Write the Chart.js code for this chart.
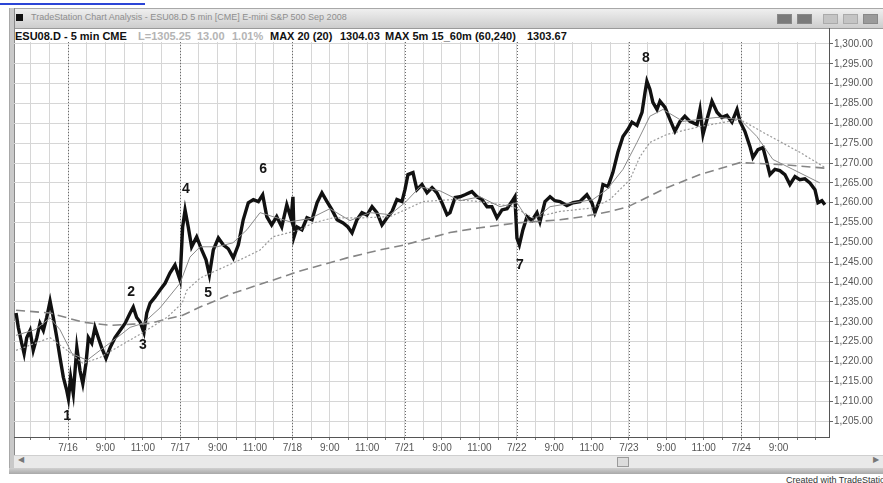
<!DOCTYPE html>
<html>
<head>
<meta charset="utf-8">
<script src="https://cdn.jsdelivr.net/npm/chart.js@4"></script>
<style>
  html, body { margin: 0; padding: 0; background: #fff; }
  #page { position: relative; width: 883px; height: 483px; overflow: hidden; background: #fff;
          font-family: Arial, "Liberation Sans", sans-serif; }
  .abs { position: absolute; }
  #link { left: 0; top: 0; width: 145px; height: 3px; border-bottom: 2px solid #2b45d6; }
  #leftEdge { left: 9px; top: 8px; width: 4px; height: 466px; background: #c9c9c9; border-left: 1px solid #a8a8a8; border-right: 1px solid #8a8a8a; }
  #titleBar { left: 9px; top: 8px; width: 880px; height: 19px; border-top: 1px solid #a8a8a8; border-bottom: 1px solid #9a9a9a;
              background: linear-gradient(#efefef, #cdcdcd); }
  #icon { left: 16px; top: 14px; width: 7px; height: 7px; background: #111; }
  #title { left: 31px; top: 12px; font-size: 9px; color: #8e8e8e; white-space: nowrap; }
  .btn { top: 14px; width: 13px; height: 8px; border: 1px solid #888; }
  .hd { top: 30px; font-size: 11px; font-weight: bold; color: #111; white-space: nowrap; }
  .hd.g { color: #b4b4b4; }
  #axisUp { left: 829px; top: 28px; width: 1px; height: 14px; background: #555; }
  #scroll { left: 14px; top: 455px; width: 869px; height: 12px; background: #e9e9e9; border-top: 1px solid #cfcfcf; }
  #thumb { left: 617px; top: 457px; width: 10px; height: 8px; border: 1px solid #9a9a9a; background: #dcdcdc; }
  .arrow { top: 455px; font-size: 8px; color: #777; }
  #bottomBar { left: 9px; top: 468px; width: 874px; height: 6px; background: linear-gradient(#d0d0d0, #a9a9a9); }
  #created { left: 786px; top: 475px; font-size: 9px; color: #333; white-space: nowrap; }
  canvas { position: absolute; left: 0; top: 0; }
</style>
</head>
<body>
<div id="page">
  <div class="abs" id="link"></div>
  <div class="abs" id="titleBar"></div>
  <div class="abs" id="leftEdge"></div>
  <div class="abs" id="icon"></div>
  <div class="abs" id="title">TradeStation Chart Analysis - ESU08.D 5 min [CME] E-mini S&amp;P 500 Sep 2008</div>
  <div class="abs btn" style="left:777px;background:#7a7a7a"></div>
  <div class="abs btn" style="left:797px;background:#7a7a7a"></div>
  <div class="abs btn" style="left:823px;background:#c4c4c4;border-color:#aaa"></div>
  <div class="abs btn" style="left:843px;background:#c4c4c4;border-color:#aaa"></div>
  <div class="abs btn" style="left:863px;background:#9a9a9a"></div>

  <div class="abs hd" style="left:15px">ESU08.D - 5 min CME</div>
  <div class="abs hd g" style="left:138px">L=1305.25</div>
  <div class="abs hd g" style="left:197px">13.00</div>
  <div class="abs hd g" style="left:232px">1.01%</div>
  <div class="abs hd" style="left:270px">MAX 20 (20)</div>
  <div class="abs hd" style="left:340px">1304.03</div>
  <div class="abs hd" style="left:385px">MAX 5m 15_60m (60,240)</div>
  <div class="abs hd" style="left:527px">1303.67</div>
  <div class="abs" id="axisUp"></div>

  <div class="abs" id="scroll"></div>
  <div class="abs arrow" style="left:18px">&#9664;</div>
  <div class="abs arrow" style="left:873px">&#9654;</div>
  <div class="abs" id="thumb"></div>
  <div class="abs" id="bottomBar"></div>
  <div class="abs" id="created">Created with TradeStation</div>

  <canvas id="chart" width="883" height="483"></canvas>
</div>

<script>
// time is in session hours from the 7/16 open (6 grid hours per trading day)
const dayLabels = ["7/16", "7/17", "7/18", "7/21", "7/22", "7/23", "7/24"];
const dayStarts = [0, 6, 12, 18, 24, 30, 36];
const hourLabelA = "9:00";
const hourLabelB = "11:00";
const yTickValues = [1205, 1210, 1215, 1220, 1225, 1230, 1235, 1240, 1245, 1250,
  1255, 1260, 1265, 1270, 1275, 1280, 1285, 1290, 1295, 1300];

// ESU08.D 5 min price path
const priceTime = [
  -2.78, -2.66, -2.48, -2.35, -2.21, -2.03, -1.86, -1.67, -1.50, -1.32,
  -1.14, -0.96, -0.79, -0.60, -0.43, -0.25, -0.07, 0.02, 0.14, 0.28,
  0.47, 0.64, 0.79, 0.96, 1.09, 1.27, 1.44, 1.62, 1.80, 2.03,
  2.25, 2.51, 2.78, 3.05, 3.32, 3.49, 3.67, 3.85, 4.06, 4.21,
  4.39, 4.65, 4.92, 5.19, 5.45, 5.72, 5.99, 6.13, 6.26, 6.43,
  6.61, 6.88, 7.15, 7.38, 7.56, 7.77, 8.04, 8.30, 8.57, 8.84,
  9.11, 9.37, 9.64, 9.91, 10.18, 10.41, 10.63, 10.89, 11.16, 11.43,
  11.70, 11.93, 12.03, 12.09, 12.25, 12.51, 12.78, 13.05, 13.32, 13.58,
  13.85, 14.12, 14.39, 14.71, 14.97, 15.19, 15.45, 15.72, 15.99, 16.26,
  16.52, 16.79, 17.06, 17.33, 17.59, 17.86, 18.02, 18.18, 18.45, 18.66,
  18.93, 19.20, 19.47, 19.73, 20.00, 20.27, 20.43, 20.70, 20.96, 21.23,
  21.60, 21.87, 22.14, 22.41, 22.67, 22.94, 23.21, 23.48, 23.74, 23.90,
  24.01, 24.14, 24.33, 24.55, 24.81, 25.08, 25.24, 25.51, 25.78, 26.04,
  26.31, 26.68, 27.01, 27.38, 27.75, 28.02, 28.18, 28.45, 28.61, 28.88,
  29.14, 29.41, 29.68, 29.95, 30.16, 30.43, 30.70, 30.86, 30.96, 31.12,
  31.28, 31.50, 31.66, 31.93, 32.19, 32.46, 32.73, 32.99, 33.26, 33.64,
  33.80, 33.96, 34.22, 34.44, 34.71, 34.97, 35.24, 35.51, 35.78, 35.94,
  36.20, 36.47, 36.63, 36.90, 37.17, 37.38, 37.54, 37.81, 38.07, 38.34,
  38.61, 38.88, 39.14, 39.41, 39.68, 39.95, 40.11, 40.32, 40.48
];
const priceClose = [
  1232.2, 1228.6, 1224.6, 1222.0, 1226.0, 1227.8, 1222.8, 1226.0, 1229.6, 1227.8,
  1231.1, 1235.2, 1231.1, 1226.0, 1221.0, 1216.0, 1212.7, 1210.6, 1216.0, 1211.9,
  1223.5, 1217.7, 1214.4, 1219.5, 1226.0, 1224.6, 1228.6, 1226.0, 1223.5, 1220.8,
  1223.5, 1226.0, 1227.8, 1229.6, 1232.2, 1233.7, 1231.1, 1230.0, 1227.3, 1232.2,
  1234.7, 1236.2, 1238.0, 1239.7, 1242.3, 1244.3, 1240.5, 1253.9, 1258.2, 1253.9,
  1248.9, 1251.4, 1248.1, 1245.6, 1241.8, 1248.1, 1251.1, 1249.4, 1248.4, 1246.1,
  1249.4, 1255.7, 1260.0, 1260.8, 1260.3, 1262.0, 1256.5, 1254.4, 1256.5, 1253.9,
  1259.5, 1256.0, 1261.5, 1251.5, 1253.9, 1253.2, 1256.2, 1255.7, 1260.0, 1262.5,
  1260.3, 1258.2, 1255.7, 1254.9, 1253.9, 1252.4, 1255.7, 1257.5, 1256.9, 1259.0,
  1257.5, 1254.4, 1256.2, 1257.8, 1260.8, 1260.3, 1263.3, 1267.1, 1267.6, 1263.3,
  1264.6, 1262.5, 1263.8, 1262.5, 1260.0, 1257.0, 1257.5, 1261.3, 1261.5, 1262.0,
  1262.8, 1261.5, 1260.8, 1259.0, 1259.0, 1256.2, 1258.2, 1258.5, 1260.3, 1261.5,
  1251.1, 1249.4, 1253.2, 1256.5, 1255.5, 1257.5, 1255.2, 1260.3, 1261.5, 1260.5,
  1260.3, 1259.3, 1260.0, 1260.3, 1262.0, 1260.0, 1257.5, 1260.8, 1264.6, 1264.1,
  1267.6, 1272.7, 1276.7, 1278.5, 1280.3, 1279.5, 1282.8, 1287.8, 1290.6, 1288.6,
  1285.3, 1283.5, 1285.6, 1284.0, 1281.0, 1278.0, 1280.5, 1281.8, 1280.5, 1279.7,
  1283.5, 1277.2, 1281.8, 1285.6, 1282.8, 1281.5, 1282.0, 1280.3, 1283.5, 1280.5,
  1278.0, 1274.2, 1271.4, 1273.4, 1273.9, 1270.1, 1267.1, 1268.4, 1268.1, 1267.1,
  1264.6, 1266.6, 1265.8, 1266.0, 1265.0, 1263.3, 1260.0, 1260.5, 1259.5
];

// MAX 20 (solid), MAX 5m 15_60m 60 (dotted) and 240 (dashed)
const ma20Time = [-2.78, -1.76, -0.96, -0.43, 0.21, 1.02, 1.71, 2.62, 3.32, 4.01,
  4.92, 5.99, 6.52, 7.06, 7.97, 8.82, 9.57, 10.27, 10.96, 11.87,
  12.94, 14.01, 15.08, 16.15, 17.22, 18.02, 18.82, 19.89, 20.96, 22.03,
  23.10, 24.01, 24.71, 25.78, 28.07, 28.82, 29.68, 30.43, 31.12, 31.82,
  32.89, 34.71, 35.94, 36.84, 37.70, 38.77, 40.21];
const ma20 = [1226.6, 1228.0, 1231.0, 1228.0, 1222.0, 1220.3, 1222.8, 1226.0, 1228.6, 1229.6,
  1233.5, 1239.7, 1246.3, 1248.9, 1248.9, 1249.9, 1253.2, 1257.5, 1256.5, 1255.2,
  1256.0, 1258.5, 1255.5, 1257.5, 1257.0, 1260.0, 1264.0, 1263.0, 1260.5, 1261.5,
  1259.0, 1260.0, 1254.9, 1259.0, 1260.8, 1263.3, 1268.4, 1275.2, 1281.8, 1283.5,
  1280.5, 1281.5, 1281.0, 1276.7, 1270.9, 1268.4, 1265.0];

const ma60Time = [-2.78, -0.96, -0.05, 0.80, 1.71, 2.62, 4.01, 5.29, 6.10, 6.36,
  7.06, 7.97, 9.20, 10.27, 10.96, 12.41, 13.10, 14.17, 15.78, 17.22,
  18.02, 18.98, 20.59, 22.03, 23.80, 24.87, 26.31, 28.07, 28.98, 30.05,
  30.59, 31.12, 32.03, 33.80, 35.94, 37.38, 39.14, 40.48];
const ma60 = [1222.8, 1226.0, 1222.8, 1219.5, 1221.0, 1223.5, 1227.3, 1231.1, 1234.7, 1238.0,
  1241.0, 1243.0, 1245.6, 1248.1, 1251.4, 1253.2, 1254.9, 1256.2, 1256.2, 1256.5,
  1258.2, 1260.3, 1260.8, 1260.3, 1259.0, 1256.2, 1257.8, 1258.7, 1260.8, 1265.8,
  1271.6, 1275.2, 1277.2, 1279.2, 1281.0, 1277.2, 1272.7, 1268.9];

const ma240Time = [-2.78, -0.96, 0.80, 2.25, 3.48, 4.39, 5.45, 6.10, 7.06, 8.82,
  10.64, 12.41, 14.92, 16.68, 18.02, 20.43, 22.03, 24.01, 26.31, 27.54,
  28.98, 29.95, 32.03, 33.80, 35.94, 38.24, 40.48];
const ma240 = [1232.9, 1232.2, 1229.9, 1229.1, 1229.4, 1229.6, 1230.9, 1231.6, 1233.7, 1237.2,
  1240.0, 1242.8, 1246.1, 1248.1, 1249.4, 1252.5, 1253.7, 1254.9, 1255.7, 1256.5,
  1257.8, 1259.0, 1263.8, 1267.1, 1270.1, 1269.6, 1268.7];

// swing point labels
const waveLabels = ["1", "2", "3", "4", "5", "6", "7", "8"];
const waveTime = [-0.05, 3.37, 4.01, 6.31, 7.49, 10.43, 24.17, 30.91];
const wavePrice = [1206.3, 1237.5, 1224.1, 1263.3, 1237.2, 1268.4, 1244.3, 1296.5];

const FONT = 'Arial, "Liberation Sans", sans-serif';

function pairs(xs, ys) {
  return xs.map((t, i) => ({ x: t, y: ys[i] }));
}

// grid every session hour
const hourSlots = [];
for (let h = -2; h <= 40; h++) hourSlots.push(h);

const chartMarks = {
  id: "chartMarks",
  beforeDatasetsDraw(chart) {
    const { ctx, chartArea, scales: { x } } = chart;
    ctx.save();
    ctx.strokeStyle = "#6a6a6a";
    ctx.lineWidth = 1;
    ctx.setLineDash([1, 2]);
    dayStarts.forEach((d) => {
      const px = Math.round(x.getPixelForValue(d)) + 0.5;
      ctx.beginPath();
      ctx.moveTo(px, chartArea.top);
      ctx.lineTo(px, chartArea.bottom);
      ctx.stroke();
    });
    ctx.restore();
  },
  afterDatasetsDraw(chart) {
    const { ctx, scales: { x, y } } = chart;
    ctx.save();
    ctx.fillStyle = "#151515";
    ctx.font = "bold 14px " + FONT;
    ctx.textAlign = "center";
    ctx.textBaseline = "middle";
    waveLabels.forEach((t, i) => {
      ctx.fillText(t, x.getPixelForValue(waveTime[i]), y.getPixelForValue(wavePrice[i]));
    });
    ctx.restore();
  }
};

new Chart(document.getElementById("chart"), {
  type: "line",
  data: {
    datasets: [
      { data: pairs(ma20Time, ma20), borderColor: "#8a8a8a", borderWidth: 1, order: 1 },
      { data: pairs(ma60Time, ma60), borderColor: "#9a9a9a", borderWidth: 1.2, borderDash: [2, 2], order: 2 },
      { data: pairs(ma240Time, ma240), borderColor: "#858585", borderWidth: 1.6, borderDash: [9, 5], order: 3 },
      { data: pairs(priceTime, priceClose), borderColor: "#111", borderWidth: 3.4, order: 4 }
    ]
  },
  options: {
    responsive: false,
    animation: false,
    events: [],
    elements: { point: { radius: 0 }, line: { tension: 0, borderJoinStyle: "miter" } },
    layout: { padding: { left: 14, top: 42, right: 0, bottom: 26 } },
    plugins: { legend: { display: false }, tooltip: { enabled: false } },
    scales: {
      x: {
        type: "linear",
        min: -2.89,
        max: 40.7,
        afterBuildTicks(scale) {
          scale.ticks = hourSlots.map((v) => ({ value: v }));
        },
        afterFit(scale) {
          scale.height = 20;
        },
        ticks: {
          autoSkip: false,
          maxRotation: 0,
          padding: 2,
          color: "#555",
          font: { family: FONT, size: 10 },
          callback(v) {
            const k = dayStarts.indexOf(v);
            if (k >= 0) return dayLabels[k];
            const off = ((v % 6) + 6) % 6;
            if (v > 0 && v < 40 && off === 2) return hourLabelA;
            if (v > 0 && v < 40 && off === 4) return hourLabelB;
            return "";
          }
        },
        grid: { color: "#d6d6d6", tickLength: 3, tickColor: "#777" },
        border: { color: "#555" }
      },
      y: {
        position: "right",
        min: 1200.97,
        max: 1300.5,
        afterBuildTicks(scale) {
          scale.ticks = yTickValues.map((v) => ({ value: v }));
        },
        afterFit(scale) {
          scale.width = 54;
        },
        ticks: {
          padding: 1,
          color: "#555",
          font: { family: FONT, size: 10 },
          callback(v) {
            return v.toLocaleString("en-US", { minimumFractionDigits: 2, maximumFractionDigits: 2 });
          }
        },
        grid: { color: "#d6d6d6", tickLength: 4, tickColor: "#666" },
        border: { color: "#555" }
      }
    }
  },
  plugins: [chartMarks]
});
</script>
</body>
</html>
